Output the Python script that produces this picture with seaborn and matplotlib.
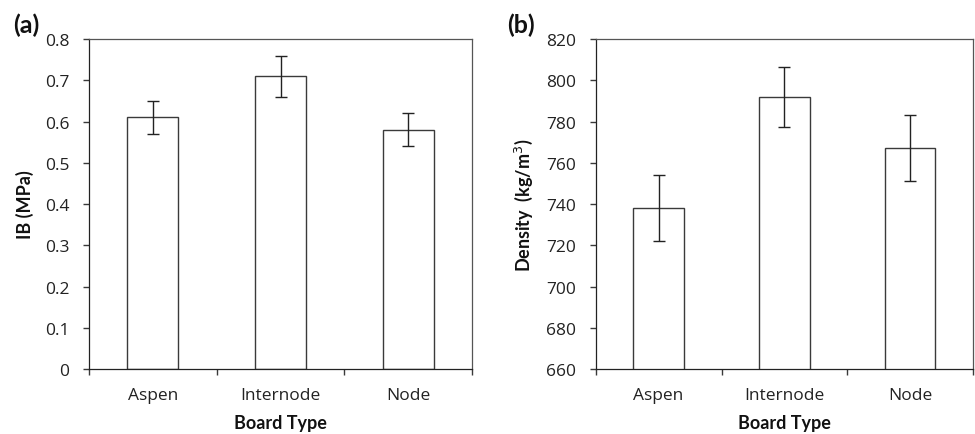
import numpy as np
import pandas as pd
import matplotlib
matplotlib.use("Agg")
import matplotlib.pyplot as plt
import seaborn as sns

board_types = ["Aspen", "Internode", "Node"]
ib_mean = [0.61, 0.71, 0.58]
ib_err = [0.04, 0.05, 0.04]
density_mean = [738, 792, 767]
density_err = [16, 14.5, 16]

sns.set_theme(style="white")
plt.rcParams['font.family'] = ['Open Sans', 'DejaVu Sans']
bold_font = ['Lato', 'DejaVu Sans']

fig = plt.figure(figsize=(9.75, 4.35), dpi=100)
ax1 = fig.add_axes([0.0913, 0.149, 0.393, 0.759])
ax2 = fig.add_axes([0.611, 0.149, 0.387, 0.759])

edge = "#3a3a3a"


def draw_panel(ax, means, errs, ylim, yticks, ylabel, tag, tag_x, fmt):
    df = pd.DataFrame({"board": board_types, "val": means})
    sns.barplot(data=df, x="board", y="val", ax=ax, color="white",
                edgecolor=edge, linewidth=1.0, width=0.4, errorbar=None)
    ax.errorbar(np.arange(len(means)), means, yerr=errs, fmt="none",
                ecolor="#222222", elinewidth=1.0, capsize=4, capthick=1.0)
    ax.set_xlim(-0.5, 2.5)
    ax.set_ylim(*ylim)
    ax.set_yticks(yticks)
    ax.set_yticklabels([fmt(v) for v in yticks], fontsize=12.5, color="#222222")
    ax.set_xticks([0, 1, 2])
    ax.set_xticklabels(board_types, fontsize=12.5, color="#222222")
    ax.set_xticks([-0.5, 0.5, 1.5, 2.5], minor=True)
    ax.tick_params(axis="x", which="major", length=0, pad=13)
    ax.tick_params(axis="x", which="minor", length=4, width=1.0, color=edge,
                   direction="out", bottom=True)
    ax.tick_params(axis="y", length=4, width=1.0, color=edge, direction="out",
                   left=True, pad=10)
    for s in ax.spines.values():
        s.set_color("#555555")
        s.set_linewidth(0.9)
    ax.spines["bottom"].set_color("#222222")
    ax.spines["left"].set_color("#222222")
    ax.set_xlabel("Board Type", fontsize=13, fontweight="bold", labelpad=8,
                  family=bold_font, color="#111111")
    ax.set_ylabel(ylabel, fontsize=13, fontweight="bold", labelpad=8,
                  family=bold_font, color="#111111")
    ax.text(tag_x, 1.045, tag, transform=ax.transAxes, fontsize=18,
            fontweight="bold", ha="left", va="center", color="#111111",
            family=bold_font)


draw_panel(ax1, ib_mean, ib_err, (0, 0.8), np.round(np.arange(0, 0.81, 0.1), 1),
           "IB (MPa)", "(a)", -0.198, lambda v: "0" if v == 0 else f"{v:.1f}")
draw_panel(ax2, density_mean, density_err, (660, 820), np.arange(660, 821, 20),
           "Density  (kg/m$^3$)", "(b)", -0.236, lambda v: f"{int(v)}")

fig.savefig("out.png", dpi=100)
